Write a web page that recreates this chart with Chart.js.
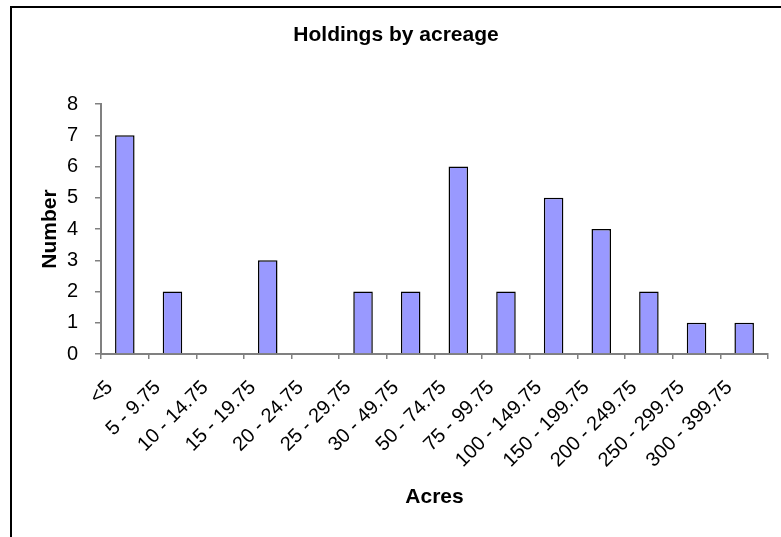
<!DOCTYPE html>
<html lang="en">
<head>
  <meta charset="UTF-8">
  <title>Holdings by acreage</title>
  <script src="https://cdn.jsdelivr.net/npm/chart.js"></script>
  <style>
    html, body { margin: 0; padding: 0; background: #fff; }
    .wrap { position: relative; width: 781px; height: 537px; overflow: hidden; }
    .frame { position: absolute; left: 10px; top: 6px; width: 800px; height: 600px; border-top: 2px solid #000; border-left: 2px solid #000; }
    canvas { position: absolute; left: 0; top: 0; }
  </style>
</head>
<body>
  <div class="wrap">
    <div class="frame"></div>
    <canvas id="grafico" width="781" height="537"></canvas>
  </div>

  <script>
    const categorias = ['<5', '5 - 9.75', '10 - 14.75', '15 - 19.75', '20 - 24.75', '25 - 29.75',
      '30 - 49.75', '50 - 74.75', '75 - 99.75', '100 - 149.75', '150 - 199.75', '200 - 249.75',
      '250 - 299.75', '300 - 399.75'];
    const numero = [7, 2, 0, 3, 0, 2, 2, 6, 2, 5, 4, 2, 1, 1];
    const ticksY = [0, 1, 2, 3, 4, 5, 6, 7, 8];

    const fonte = "'Liberation Sans', Arial, sans-serif";
    const cinza = '#808080';

    const ctx = document.getElementById('grafico').getContext('2d');
    const chart = new Chart(ctx, {
      type: 'bar',
      data: {
        labels: categorias,
        datasets: [{
          label: 'Number',
          data: numero,
          backgroundColor: '#9999FF',
          borderColor: '#000',
          borderWidth: 1.5,
          categoryPercentage: 1,
          barPercentage: 0.41
        }]
      },
      options: {
        responsive: false,
        animation: false,
        layout: { padding: { left: 24, right: 13, top: 0, bottom: 0 } },
        plugins: {
          legend: { display: false },
          tooltip: { enabled: false },
          title: {
            display: true,
            text: 'Holdings by acreage',
            color: '#000',
            font: { family: fonte, size: 21, weight: 'bold', lineHeight: 1.2 },
            padding: { top: 22.4, bottom: 56.4 }
          }
        },
        scales: {
          x: {
            grid: { drawOnChartArea: false, color: cinza, lineWidth: 1.5, tickLength: 5 },
            border: { color: cinza, width: 2 },
            ticks: {
              color: '#000', minRotation: 45, maxRotation: 45, padding: 17, labelOffset: -15,
              font: { family: fonte, size: 20 }
            },
            title: {
              display: true, text: 'Acres', color: '#000',
              font: { family: fonte, size: 21, weight: 'bold', lineHeight: 1.2 },
              padding: { top: 0, bottom: 26.7 }
            },
            afterFit: s => { s.height = 183; }
          },
          y: {
            min: 0, max: 8,
            afterBuildTicks: s => { s.ticks = ticksY.map(v => ({ value: v })); },
            grid: { drawOnChartArea: false, color: cinza, lineWidth: 1.5, tickLength: 6 },
            border: { color: cinza, width: 2 },
            ticks: { color: '#000', padding: 17, font: { family: fonte, size: 20 } },
            title: {
              display: true, text: 'Number', color: '#000',
              font: { family: fonte, size: 21, weight: 'bold', lineHeight: 1.2 },
              padding: { top: 14, bottom: 0 }
            },
            afterFit: s => { s.width = 77; }
          }
        }
      }
    });
  </script>
</body>
</html>
